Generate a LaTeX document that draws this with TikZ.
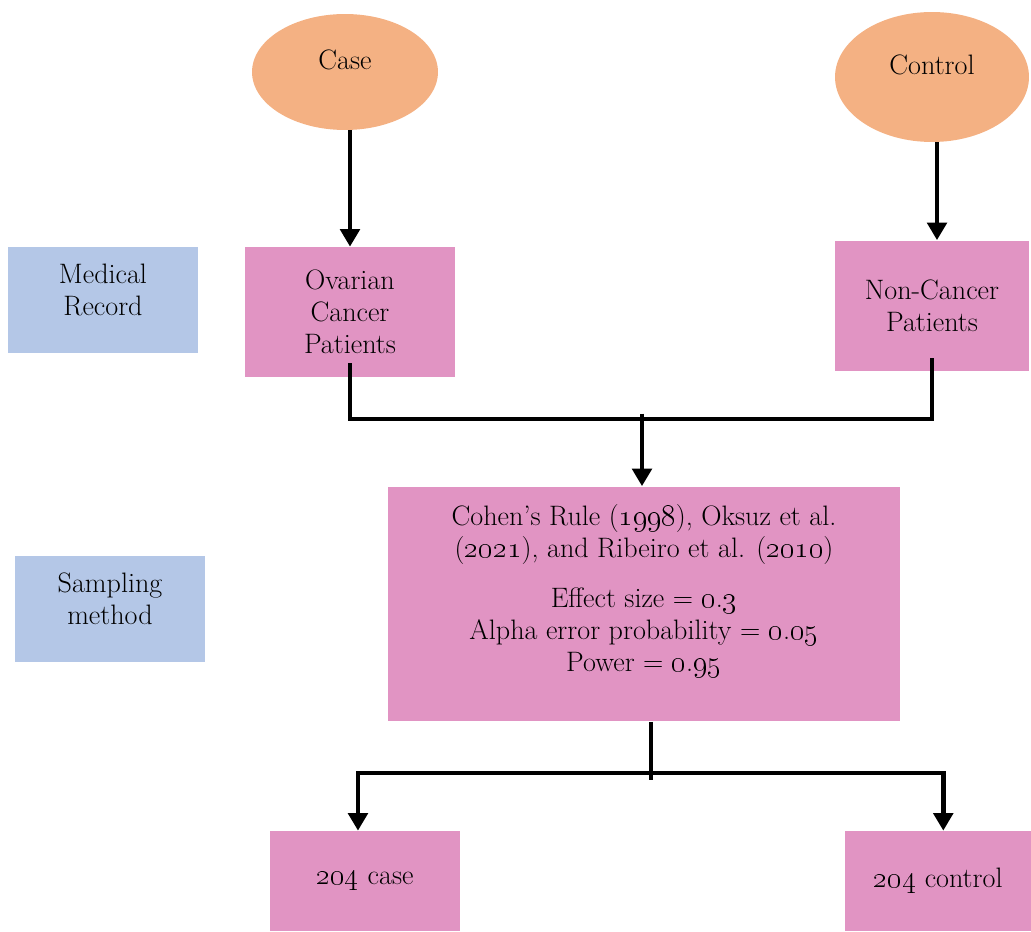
\documentclass[tikz,border=0pt]{standalone}
\usetikzlibrary{shapes.geometric,arrows.meta}
\definecolor{casepeach}{RGB}{244,177,131}
\definecolor{boxpink}{RGB}{225,148,195}
\definecolor{sideblue}{RGB}{180,199,231}
\newcommand{\os}[1]{\oldstylenums{#1}}
\tikzset{
    groupoval/.style={ellipse, fill=casepeach, inner sep=0pt},
    pinkbox/.style={rectangle, fill=boxpink, align=center, inner sep=2pt},
    bluebox/.style={rectangle, fill=sideblue, align=center, inner sep=2pt},
    flowline/.style={line width=2.8pt, black},
    flowarrow/.style={flowline, -{Triangle[length=10pt,width=11pt]}}
}
\begin{document}
\begin{tikzpicture}[x=0.02cm, y=-0.02cm, font=\fontsize{16}{18.2}\selectfont]
\useasboundingbox (0,0) rectangle (1031,932);

% Groups
\node[groupoval, minimum width=3.72cm, minimum height=2.32cm] (case) at (345,72) {\raisebox{14pt}{Case}};
\node[groupoval, minimum width=3.88cm, minimum height=2.6cm] (control) at (932,77) {\raisebox{14pt}{Control}};

% Side labels
\node[bluebox, minimum width=3.8cm, minimum height=2.14cm] (record) at (103,300) {Medical\\Record\\[-6pt]};
\node[bluebox, minimum width=3.8cm, minimum height=2.12cm] (sampling) at (110,609) {Sampling\\method\\[-6pt]};

% Patients
\node[pinkbox, minimum width=4.2cm, minimum height=2.6cm] (ovarian) at (350,312) {Ovarian\\Cancer\\Patients};
\node[pinkbox, minimum width=3.9cm, minimum height=2.62cm] (noncancer) at (932,306) {Non-Cancer\\Patients};

% Sample size
\node[pinkbox, minimum width=10.24cm, minimum height=4.7cm] (cohen) at (644,604)
    {Cohen's Rule (\os{1998}), Oksuz et al.\\(\os{2021}), and Ribeiro et al. (\os{2010})\\[10pt]
     Effect size = \os{0}.\os{3}\\Alpha error probability = \os{0}.\os{05}\\Power = \os{0}.\os{95}\\[0pt]};

% Final samples
\node[pinkbox, minimum width=3.8cm, minimum height=2cm] (casesample) at (365,881) {\os{204} case};
\node[pinkbox, minimum width=3.72cm, minimum height=2cm] (controlsample) at (938,881) {\os{204} control};

% Connectors
\coordinate (join) at (642,419);
\coordinate (split) at (651,773);
\draw[flowarrow] (case.south -| ovarian) -- (ovarian.north);
\draw[flowarrow] (control.south -| 937,0) -- (noncancer.north -| 937,0);
\draw[flowline] ([yshift=8pt]ovarian.south) |- (join) -| ([yshift=8pt]noncancer.south);
\draw[flowarrow] ([yshift=3pt]join) -- (join |- cohen.north);
\draw[flowline] (cohen.south -| split) -- ([yshift=-4pt]split);
\draw[flowarrow] (split) -| ([xshift=-4pt]casesample.north);
\draw[flowarrow] (split) -| ([xshift=3pt]controlsample.north);
\end{tikzpicture}
\end{document}
